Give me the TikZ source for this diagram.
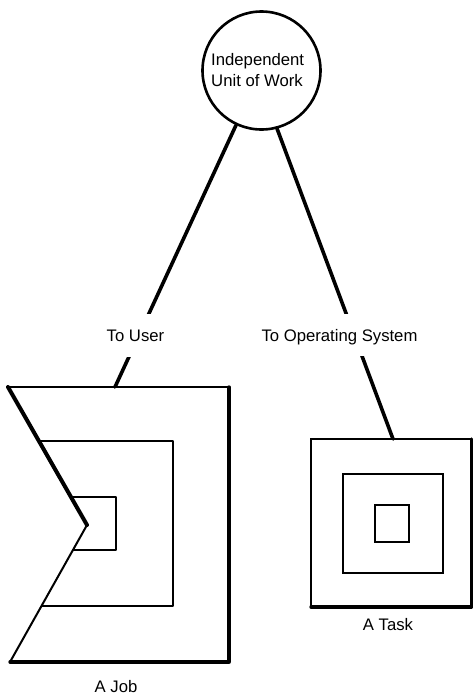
\documentclass[tikz,border=0pt]{standalone}
\usepackage{fontspec}
\setmainfont{Liberation Sans}
\begin{document}
\begin{tikzpicture}[x=1pt,y=-1pt,
  font=\fontsize{16.7}{21}\selectfont,
  conn/.style={line width=3.6pt, line cap=round},
  gaplabel/.style={fill=white, inner xsep=2pt, inner ysep=0pt,
                   text height=12pt, text depth=0pt},
  caption/.style={anchor=base, inner sep=0pt},
  thin/.style={line width=1.7pt, line cap=round, line join=round},
  heavy/.style={line width=3.3pt, line cap=round, line join=round}]
\useasboundingbox (0,0) rectangle (473,694);

% root of the tree (text block sits a little left of centre)
\node[draw, circle, line width=2.6pt, minimum size=118pt, inner sep=0pt,
      align=left] (circ) at (261.5,70.5) {Independent\\Unit of Work\hspace*{9pt}};

% attachment points on the two figures
\coordinate (jtop) at (115,387);
\coordinate (ttop) at (393,439);

% connectors
\draw[conn] (circ.245) -- (jtop);
\draw[conn] (circ.285) -- (ttop);

% labels sitting on the connectors
\node[gaplabel, minimum height=43pt] (touser) at (135.5,335.5) {To User};
\node[gaplabel, minimum height=42pt] (toos) at (339.5,335) {To Operating System};

% ---- the job: nested frames cut by a notch ----
\begin{scope}
  \clip (8,387) -- (229,387) -- (229,662) -- (10,662) -- (87,525) -- cycle;
  \draw[thin] (0,441) rectangle (173,606);
  \draw[thin] (0,497) rectangle (116,550);
\end{scope}
\draw[line width=2pt, line cap=round] (8,387) -- (229,387);
\draw[line width=4pt, line cap=round] (8,387) -- (87,525);
\draw[line width=2pt, line cap=round] (87,525) -- (10,662);
\draw[heavy] (229,387) -- (229,662) -- (10,662);
\node[caption] (job) at (116,692) {A Job};

% ---- the task: three nested squares ----
\draw[line width=1.5pt, line cap=round] (471.5,439) -- (311,439) -- (311,607);
\draw[heavy] (471.5,439) -- (471.5,607) -- (311,607);
\draw[line width=2pt] (343,474) rectangle (443,573);
\draw[line width=2.2pt] (375,505) rectangle (409,542);
\node[caption] (task) at (388,630) {A Task};
\end{tikzpicture}
\end{document}
